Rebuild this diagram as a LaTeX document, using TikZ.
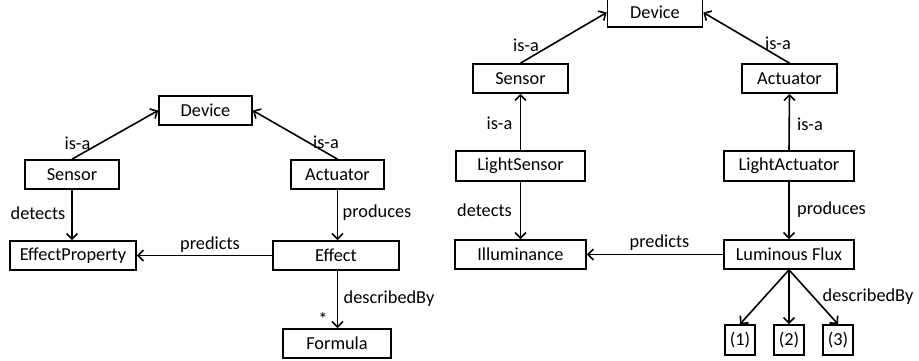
\documentclass[tikz,border=0pt]{standalone}
\usepackage{fontspec}
\setmainfont{Carlito}
\usetikzlibrary{arrows.meta}
\begin{document}
\begin{tikzpicture}[x=1pt,y=-1pt,
  box/.style={draw,line width=1.7pt,inner sep=0pt,minimum height=29pt,font=\fontsize{18.3}{20}\selectfont},
  lbl/.style={inner sep=0pt,font=\fontsize{18.3}{20}\selectfont},
  arr/.style={line width=1.6pt,-{Straight Barb[length=5.5pt,width=11pt]}}]
\useasboundingbox (0,0) rectangle (919,360);
% left diagram
\node[box,minimum width=93pt] (dev1) at (205.5,110.5) {Device};
\node[box,minimum width=94pt] (sen1) at (72,174.5) {Sensor};
\node[box,minimum width=93pt] (act1) at (337.5,174.5) {Actuator};
\node[box,minimum width=126pt] (ep) at (73,255.5) {EffectProperty};
\node[box,minimum width=126pt] (eff) at (336,255.5) {Effect};
\node[box,minimum width=108pt] (form) at (337,343.5) {Formula};
\draw[arr] (sen1.north) -- (dev1.west);
\draw[arr] (act1.north) -- (dev1.east);
\draw[arr] (sen1.south) -- (sen1.south |- ep.north);
\draw[arr] (act1.south) -- (act1.south |- eff.north);
\draw[arr] (eff.west) -- (ep.east);
\draw[arr] (act1.south |- eff.south) -- (act1.south |- form.north);
\node[lbl] (l1) at (77.5,143) {is-a};
\node[lbl] (l2) at (326,142) {is-a};
\node[lbl] (l3) at (38,213) {detects};
\node[lbl] (l4) at (377,213) {produces};
\node[lbl] (l5) at (210,245) {predicts};
\node[lbl] (l6) at (389,299) {describedBy};
\node[lbl] (l7) at (323,319) {*};
% right diagram
\node[box,minimum width=95pt] (dev2) at (655,12.5) {Device};
\node[box,minimum width=95pt] (sen2) at (520.5,78.5) {Sensor};
\node[box,minimum width=95pt] (act2) at (789.5,78.5) {Actuator};
\node[box,minimum width=129pt,minimum height=30pt] (ls) at (520.5,166) {LightSensor};
\node[box,minimum width=130pt,minimum height=30pt] (la) at (789,166) {LightActuator};
\node[box,minimum width=131pt] (ill) at (520.5,254.5) {Illuminance};
\node[box,minimum width=130pt] (lf) at (789,254.5) {Luminous Flux};
\node[box,minimum width=30pt,minimum height=30pt] (b1) at (740,340) {(1)};
\node[box,minimum width=30pt,minimum height=30pt] (b2) at (789,340) {(2)};
\node[box,minimum width=30pt,minimum height=30pt] (b3) at (838,340) {(3)};
\draw[arr] (sen2.north) -- (dev2.west);
\draw[arr] (act2.north) -- (dev2.east);
\draw[arr] (ls.north) -- (sen2.south);
\draw[arr] (la.north) -- (act2.south);
\draw[arr] (ls.south) -- (ill.north);
\draw[arr] (la.south) -- (lf.north);
\draw[arr] (lf.west) -- (ill.east);
\draw[arr] (lf.south) -- (b1.north);
\draw[arr] (lf.south) -- (b2.north);
\draw[arr] (lf.south) -- (b3.north);
\node[lbl] (r1) at (526,45) {is-a};
\node[lbl] (r2) at (778,43) {is-a};
\node[lbl] (r3) at (499.5,123) {is-a};
\node[lbl] (r4) at (810,124) {is-a};
\node[lbl] (r5) at (484.5,210) {detects};
\node[lbl] (r6) at (831.5,210) {produces};
\node[lbl] (r7) at (659.5,243) {predicts};
\node[lbl] (r8) at (868,297) {describedBy};
\end{tikzpicture}
\end{document}
